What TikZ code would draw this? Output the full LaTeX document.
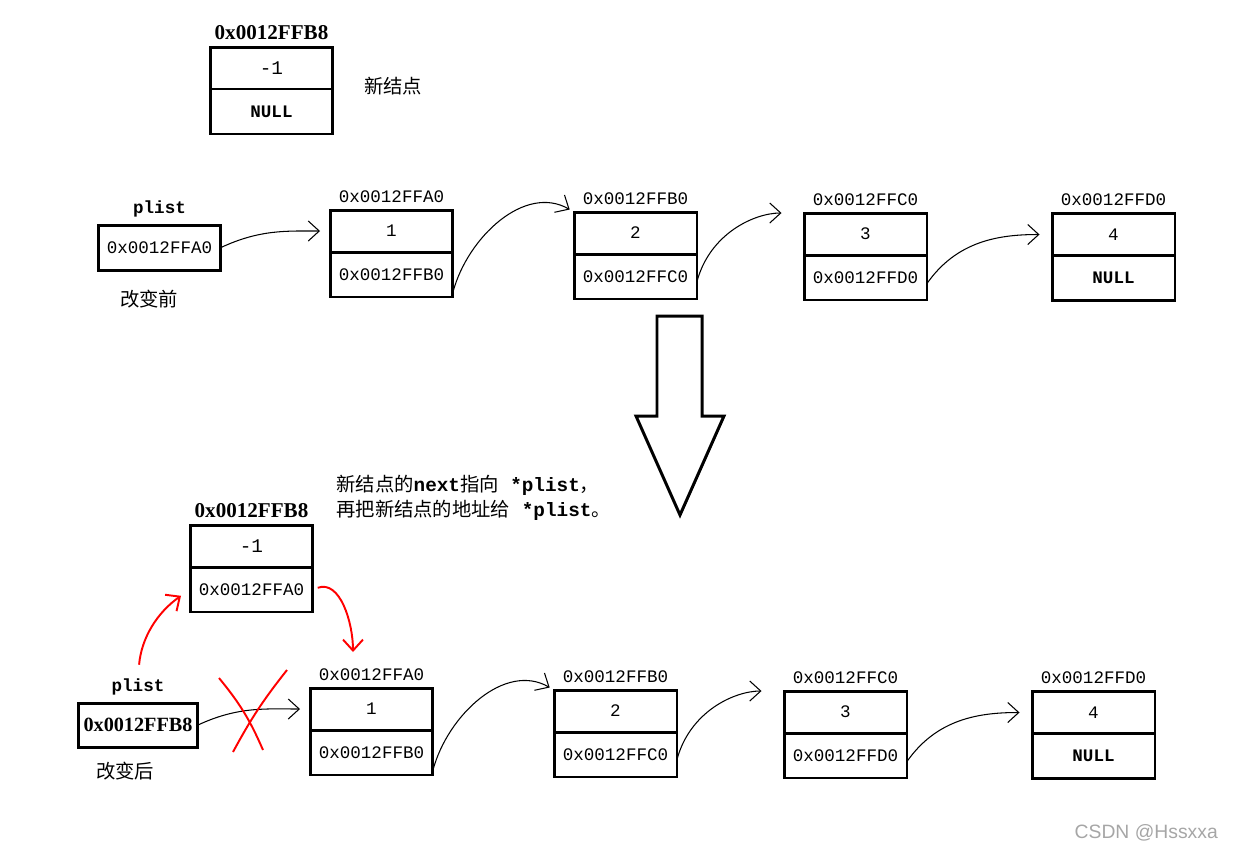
\documentclass[tikz,border=0pt]{standalone}
\usepackage{fontspec}
\setmainfont{Liberation Serif}
\setmonofont{Liberation Mono}
\newfontfamily\cjk{Noto Sans CJK SC}
\newfontfamily\wmfont{Liberation Sans}
\usepackage{tikz}
\usetikzlibrary{arrows.meta,positioning}
\newcommand{\zh}[1]{{\cjk\mdseries #1}}

\tikzset{
  cell/.style={draw,line width=1.7pt,outer sep=0pt,inner sep=0pt,minimum width=2.46cm,font=\ttfamily\fontsize{10}{12}\selectfont},
  datacell/.style={cell,minimum height=0.84cm},
  nextcell/.style={cell,minimum height=0.9cm},
  ptrbox/.style={cell,minimum height=0.9cm},
  addr/.style={inner sep=1pt,font=\ttfamily\fontsize{10}{12}\selectfont},
  biglabel/.style={inner sep=1pt,font=\bfseries\fontsize{12}{14}\selectfont},
  zhlabel/.style={font=\cjk\fontsize{11}{13}\selectfont},
  link/.style={-{Straight Barb[length=0.22cm,width=0.4cm]},line width=0.6pt},
  redlink/.style={link,red,line width=1.1pt},
}

\begin{document}
\begin{tikzpicture}[x=0.02cm,y=-0.02cm]
  \useasboundingbox (0,0) rectangle (1238,850);

  % before
  \node[datacell,font=\ttfamily\fontsize{11}{13}\selectfont] (na) at (271.5,68) {-1};
  \node[nextcell,below=0pt of na] (nb) {\bfseries NULL};
  \node[biglabel,above=3pt of na] (nlab) {0x0012FFB8};
  \node[zhlabel,anchor=west] (ntxt) at (358,86) {新结点};

  \node[ptrbox] (p) at (159.5,247.5) {0x0012FFA0};
  \node[addr,font=\ttfamily\bfseries\fontsize{10}{12}\selectfont,above=3pt of p] (plab) {plist};
  \node[zhlabel,anchor=west] (ptxt) at (114,299) {改变前};

  \foreach \i/\x/\y/\d/\n/\a in {1/391.5/231/1/0x0012FFB0/0x0012FFA0,
      2/635.5/233/2/0x0012FFC0/0x0012FFB0,
      3/865.5/234/3/0x0012FFD0/0x0012FFC0,
      4/1113.5/234.5/4/{\bfseries NULL}/0x0012FFD0}{
    \node[datacell] (a\i) at (\x,\y) {\d};
    \node[nextcell,below=0pt of a\i] (b\i) {\n};
    \node[addr,above=3pt of a\i] (la\i) {\a};
  }

  \draw[link,shorten >=0.2cm] (p.east) to[out=25,in=180] (a1.west);
  \draw[link,shorten >=0.1cm] ([yshift=0.1cm]b1.south east) to[out=75,in=150] (a2.north west);
  \draw[link,shorten >=0.45cm] ([yshift=-0.1cm]b2.east) to[out=75,in=180] (a3.north west);
  \draw[link,shorten >=0.25cm] ([yshift=-0.12cm]b3.east) to[out=55,in=180] (a4.west);

  % big arrow
  \draw[line width=1.7pt,line join=miter] (657,316) -- (702,316) -- (702,416) -- (724,416)
    -- (680,515) -- (636,416) -- (657,416) -- cycle;

  % after
  \node[anchor=west,align=left,inner sep=0pt,font=\ttfamily\bfseries\fontsize{11}{14}\selectfont] (note) at (336,498)
    {\zh{新结点的}next\zh{指向} *plist\zh{，}\\\zh{再把新结点的地址给} *plist\zh{。}};

  \node[datacell,font=\ttfamily\fontsize{11}{13}\selectfont] (nna) at (251.5,546) {-1};
  \node[nextcell,below=0pt of nna] (nnb) {0x0012FFA0};
  \node[biglabel,above=3pt of nna] (nnlab) {0x0012FFB8};

  \node[ptrbox,minimum width=2.4cm,minimum height=0.88cm,font=\bfseries\fontsize{11.5}{14}\selectfont] (q) at (138,725) {0x0012FFB8};
  \node[addr,font=\ttfamily\bfseries\fontsize{10}{12}\selectfont,above=3pt of q] (qlab) {plist};
  \node[zhlabel,anchor=west] (qtxt) at (90,771) {改变后};

  \foreach \i/\x/\y/\d/\n/\a in {1/371.5/709/1/0x0012FFB0/0x0012FFA0,
      2/615.5/711/2/0x0012FFC0/0x0012FFB0,
      3/845.5/712/3/0x0012FFD0/0x0012FFC0,
      4/1093.5/712.5/4/{\bfseries NULL}/0x0012FFD0}{
    \node[datacell] (c\i) at (\x,\y) {\d};
    \node[nextcell,below=0pt of c\i] (d\i) {\n};
    \node[addr,above=3pt of c\i] (lc\i) {\a};
  }

  \draw[link,shorten >=0.2cm] (q.east) to[out=25,in=180] (c1.west);
  \draw[link,shorten >=0.1cm] ([yshift=0.1cm]d1.south east) to[out=75,in=150] (c2.north west);
  \draw[link,shorten >=0.45cm] ([yshift=-0.1cm]d2.east) to[out=75,in=180] (c3.north west);
  \draw[link,shorten >=0.25cm] ([yshift=-0.12cm]d3.east) to[out=55,in=180] (c4.west);

  % red marks
  \coordinate (rin) at (353,652);
  \draw[redlink,shorten <=0.25cm,shorten >=0.22cm] (qlab.north) to[out=85,in=215] (nnb.west);
  \draw[redlink,shorten <=0.1cm] (nnb.east) to[out=20,in=90] (rin);
  \draw[red,line width=1.1pt] (219,678) to[bend left=8] (263,750);
  \draw[red,line width=1.1pt] (287,670) to[bend right=5] (233,752);

  \node[anchor=east,text=gray!70,font=\wmfont\fontsize{11}{13}\selectfont] (wm) at (1224,833) {CSDN @Hssxxa};
\end{tikzpicture}
\end{document}
